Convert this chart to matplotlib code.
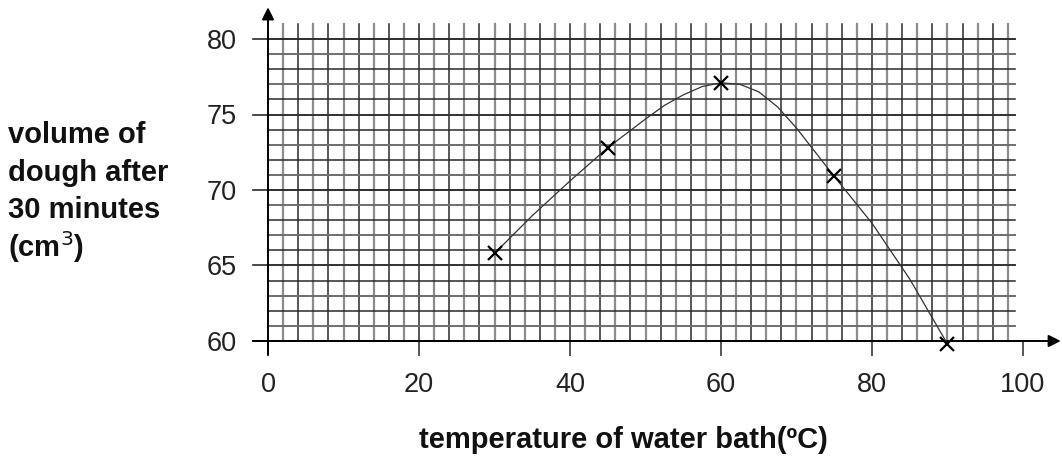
import matplotlib
matplotlib.use("Agg")
import matplotlib.pyplot as plt

plt.rcParams['font.family'] = ['Liberation Sans', 'DejaVu Sans']

# measured points (crosses)
temp = [30, 45, 60, 75, 90]
volume = [65.8, 72.8, 77.1, 70.9, 59.8]

# hand-drawn curve
curve_x = [30, 35, 40, 45, 50, 52.5, 55, 57.5, 60, 62.5, 65, 67.5, 70, 75, 80, 85, 90]
curve_y = [65.8, 68.3, 70.6, 72.8, 74.7, 75.6, 76.3, 76.85, 77.1, 77.0, 76.5, 75.5, 74.1,
           70.9, 67.8, 64.1, 59.8]

xticks = [0, 20, 40, 60, 80, 100]
yticks = [60, 65, 70, 75, 80]

W, H = 1062, 457
fig = plt.figure(figsize=(W / 100, H / 100), dpi=100)
# axis origin at pixel (268, 341), 7.55 px per degree, 15.1 px per cm3
x0, y0 = 268, 341
xmin, xmax = -3, 105
ymin, ymax = 58.6, 82.1
ax = fig.add_axes([(x0 + xmin * 7.55) / W, (H - y0 - (60 - ymin) * 15.1) / H,
                   (xmax - xmin) * 7.55 / W, (ymax - ymin) * 15.1 / H])
ax.set_xlim(xmin, xmax)
ax.set_ylim(ymin, ymax)
for s in ax.spines.values():
    s.set_visible(False)

# graph paper
for gx in range(2, 100, 2):
    if gx % 4 == 0:
        ax.plot([gx, gx], [60, 81], color='#2a2a2a', lw=1.1, zorder=1)
    else:
        ax.plot([gx, gx], [60, 81], color='#8c8c8c', lw=1.6, zorder=1)
for gy in range(61, 81):
    if gy % 2 == 0:
        ax.plot([0, 99], [gy, gy], color='#2a2a2a', lw=1.1, zorder=1)
    else:
        ax.plot([0, 99], [gy, gy], color='#6e6e6e', lw=1.4, zorder=1)
for gy in yticks:
    ax.plot([-2, 99 if gy != 60 else 100], [gy, gy], color='#2a2a2a', lw=1.2, zorder=2)
for gx in xticks:
    ax.plot([gx, gx], [59.1, 60], color='#555555', lw=1.4, zorder=2)

# axes with arrows
ax.annotate('', xy=(105, 60), xytext=(-2, 60),
            arrowprops=dict(arrowstyle='-|>', color='black', lw=1.4,
                            mutation_scale=18, shrinkA=0, shrinkB=0), zorder=3)
ax.annotate('', xy=(0, 82.1), xytext=(0, 59.1),
            arrowprops=dict(arrowstyle='-|>', color='black', lw=1.4,
                            mutation_scale=18, shrinkA=0, shrinkB=0), zorder=3)

ax.plot(curve_x, curve_y, color='#333333', lw=0.9, zorder=4)
ax.plot(temp, volume, 'x', color='black', ms=10, mew=1.6, zorder=5)

ax.set_xticks(xticks)
ax.set_xticklabels([str(v) for v in xticks])
ax.set_yticks(yticks)
ax.set_yticklabels([str(v) for v in yticks])
ax.tick_params(axis='x', length=0, pad=7, labelsize=19.5, colors='#222222')
ax.tick_params(axis='y', length=0, pad=6, labelsize=19.5, colors='#222222')

fig.text(623 / W, 1 - 440 / H, 'temperature of water bath(ºC)', ha='center', va='center',
         fontsize=21, fontweight='bold', color='#111111')
ylab = ['volume of', 'dough after', '30 minutes', r'(cm$^{3}$)']
for i, t in enumerate(ylab):
    fig.text(8 / W, 1 - (135 + 37.5 * i) / H, t, ha='left', va='center',
             fontsize=21, fontweight='bold', color='#111111')

fig.savefig('out.png', dpi=100)
